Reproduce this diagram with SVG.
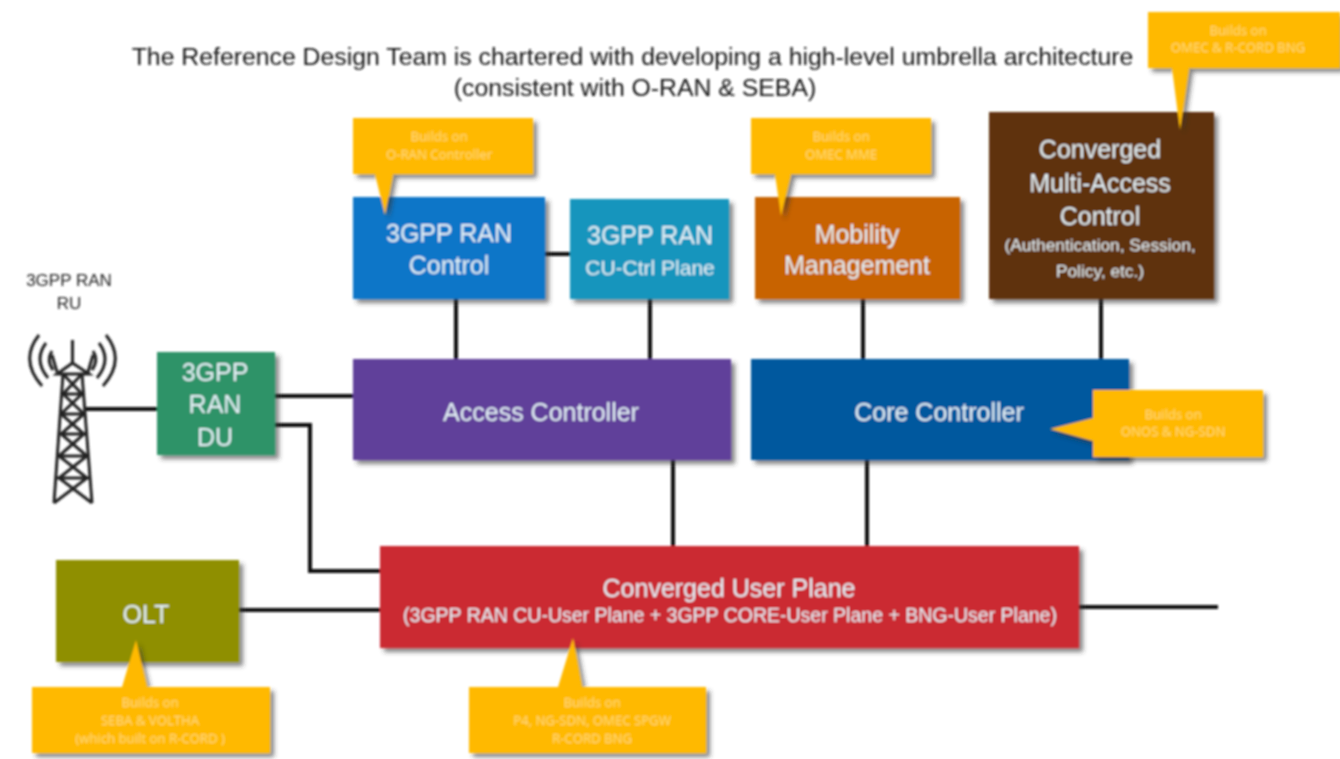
<svg xmlns="http://www.w3.org/2000/svg" width="1340" height="759" viewBox="0 0 1340 759">
<style>
text{font-family:"Liberation Sans",Arial,sans-serif;text-anchor:middle}
.t{fill:#161616;font-size:24.800px}
.ru{fill:#222;font-size:17px}
.n{fill:#e4f1f7;font-size:25px}
.s{fill:#e4f1f7;font-size:17.300px}
.c{fill:#ffdb78;font-size:13.200px;font-family:"Open Sans",sans-serif}
.l{stroke:#111;stroke-width:4;fill:none}
.tw{stroke:#222;stroke-width:3;fill:none}
.box{filter:url(#sh)}
.co{fill:#ffb900;filter:url(#sh)}
</style>
<defs>
<filter id="sh" x="-10%" y="-10%" width="125%" height="125%"><feDropShadow dx="4" dy="4" stdDeviation="2" flood-color="#333" flood-opacity=".6"/></filter>
<filter id="soft" filterUnits="userSpaceOnUse" x="0" y="0" width="1340" height="759"><feGaussianBlur stdDeviation=".8"/></filter>
</defs>
<rect width="1340" height="759" fill="#fff"/>
<g filter="url(#soft)">
<text id="title" class="t"><tspan x="632.500" y="65">The Reference Design Team is chartered with developing a high-level umbrella architecture</tspan><tspan x="635" y="96">(consistent with O-RAN &amp; SEBA)</tspan></text>
<g id="connectors">
<path class="l" d="M84 409H157M275 396H353M275 425H310V571H380M545 254H570M456 299V359M650 299V359M863 299V359M1101 299V359M673 460V546M867 460V546M239 610H380M1079 607H1218"/>
</g>
<g id="ru">
<text class="ru" x="69" y="286">3GPP RAN</text>
<text class="ru" x="69" y="309">RU</text>
<path class="tw" d="M72.500 340V363M72.500 363L57 374H89ZM63 374L54 503M82 374L92 503M63 374L82 394L61 414L84 434L59 456L87 478L54 503M82 374L63 394L84 414L61 434L87 456L59 478L92 503M61 394H84M60 414H85M59 434H86M58 456H87M56 478H89M57 372L52 355M88 372L93 355"/>
<path class="tw" d="M39 335Q19 360 42 386M46 343Q33 360 48 378M52 351Q46 360 53 370M106 335Q126 360 103 386M99 343Q112 360 97 378M93 351Q99 360 92 370"/>
</g>
<g id="du"><rect class="box" x="157" y="352" width="118" height="103" fill="#2e9368"/>
<text class="n"><tspan x="215" y="381">3GPP</tspan><tspan x="215" y="413">RAN</tspan><tspan x="215" y="446">DU</tspan></text></g>
<g id="ran-control"><rect class="box" x="353" y="197" width="192" height="102" fill="#0a76c8"/>
<text class="n"><tspan x="449" y="242">3GPP RAN</tspan><tspan x="449" y="274">Control</tspan></text></g>
<g id="cu-ctrl"><rect class="box" x="570" y="199" width="159" height="100" fill="#1495bd"/>
<text class="n"><tspan x="650" y="244">3GPP RAN</tspan><tspan x="650" y="275" style="font-size:21px">CU-Ctrl Plane</tspan></text></g>
<g id="mobility"><rect class="box" x="755" y="197" width="205" height="102" fill="#c86400"/>
<text class="n"><tspan x="857" y="243">Mobility</tspan><tspan x="857" y="274">Management</tspan></text></g>
<g id="converged-control"><rect class="box" x="989" y="112" width="225" height="187" fill="#5f300a"/>
<text class="n"><tspan x="1100" y="158">Converged</tspan><tspan x="1100" y="192">Multi-Access</tspan><tspan x="1100" y="225">Control</tspan></text>
<text class="s"><tspan x="1100" y="251">(Authentication, Session,</tspan><tspan x="1100" y="277">Policy, etc.)</tspan></text></g>
<g id="access"><rect class="box" x="353" y="359" width="378" height="101" fill="#61409a"/>
<text class="n" x="541" y="421">Access Controller</text></g>
<g id="core"><rect class="box" x="751" y="359" width="378" height="101" fill="#04589e"/>
<text class="n" x="939" y="421">Core Controller</text></g>
<g id="user-plane"><rect class="box" x="380" y="546" width="699" height="102" fill="#cb2b33"/>
<text class="n" x="729" y="597">Converged User Plane</text>
<text class="n" style="font-size:19.500px" x="730" y="622">(3GPP RAN CU-User Plane + 3GPP CORE-User Plane + BNG-User Plane)</text></g>
<g id="olt"><rect class="box" x="56" y="560" width="183" height="102" fill="#8f8f00"/>
<text class="n" x="146" y="623">OLT</text></g>
<g id="callout-oran"><path class="co" d="M353 118H533V174H393L385 215L375 174H353Z"/>
<text class="c"><tspan x="439" y="141">Builds on</tspan><tspan x="439" y="159">O-RAN Controller</tspan></text></g>
<g id="callout-mme"><path class="co" d="M751 118H931V174H791L781 216L775 174H751Z"/>
<text class="c"><tspan x="841" y="141">Builds on</tspan><tspan x="841" y="159">OMEC MME</tspan></text></g>
<g id="callout-bng"><path class="co" d="M1148 12H1340V68H1189L1180 130L1172 68H1148Z"/>
<text class="c"><tspan x="1238" y="35">Builds on</tspan><tspan x="1238" y="52">OMEC &amp; R-CORD BNG</tspan></text></g>
<g id="callout-onos"><path class="co" d="M1093 390H1263V457H1093V441L1050 429L1093 418Z"/>
<text class="c"><tspan x="1173" y="419">Builds on</tspan><tspan x="1173" y="436">ONOS &amp; NG-SDN</tspan></text></g>
<g id="callout-seba"><path class="co" d="M32 687H122L136 640L147 687H270V753H32Z"/>
<text class="c"><tspan x="150" y="707">Builds on</tspan><tspan x="150" y="725">SEBA &amp; VOLTHA</tspan><tspan x="150" y="743">(which built on R-CORD )</tspan></text></g>
<g id="callout-p4"><path class="co" d="M469 687H558L573 638L582 687H706V753H469Z"/>
<text class="c"><tspan x="592" y="707">Builds on</tspan><tspan x="592" y="725">P4, NG-SDN, OMEC SPGW</tspan><tspan x="592" y="743">R-CORD BNG</tspan></text></g>
</g>
</svg>
